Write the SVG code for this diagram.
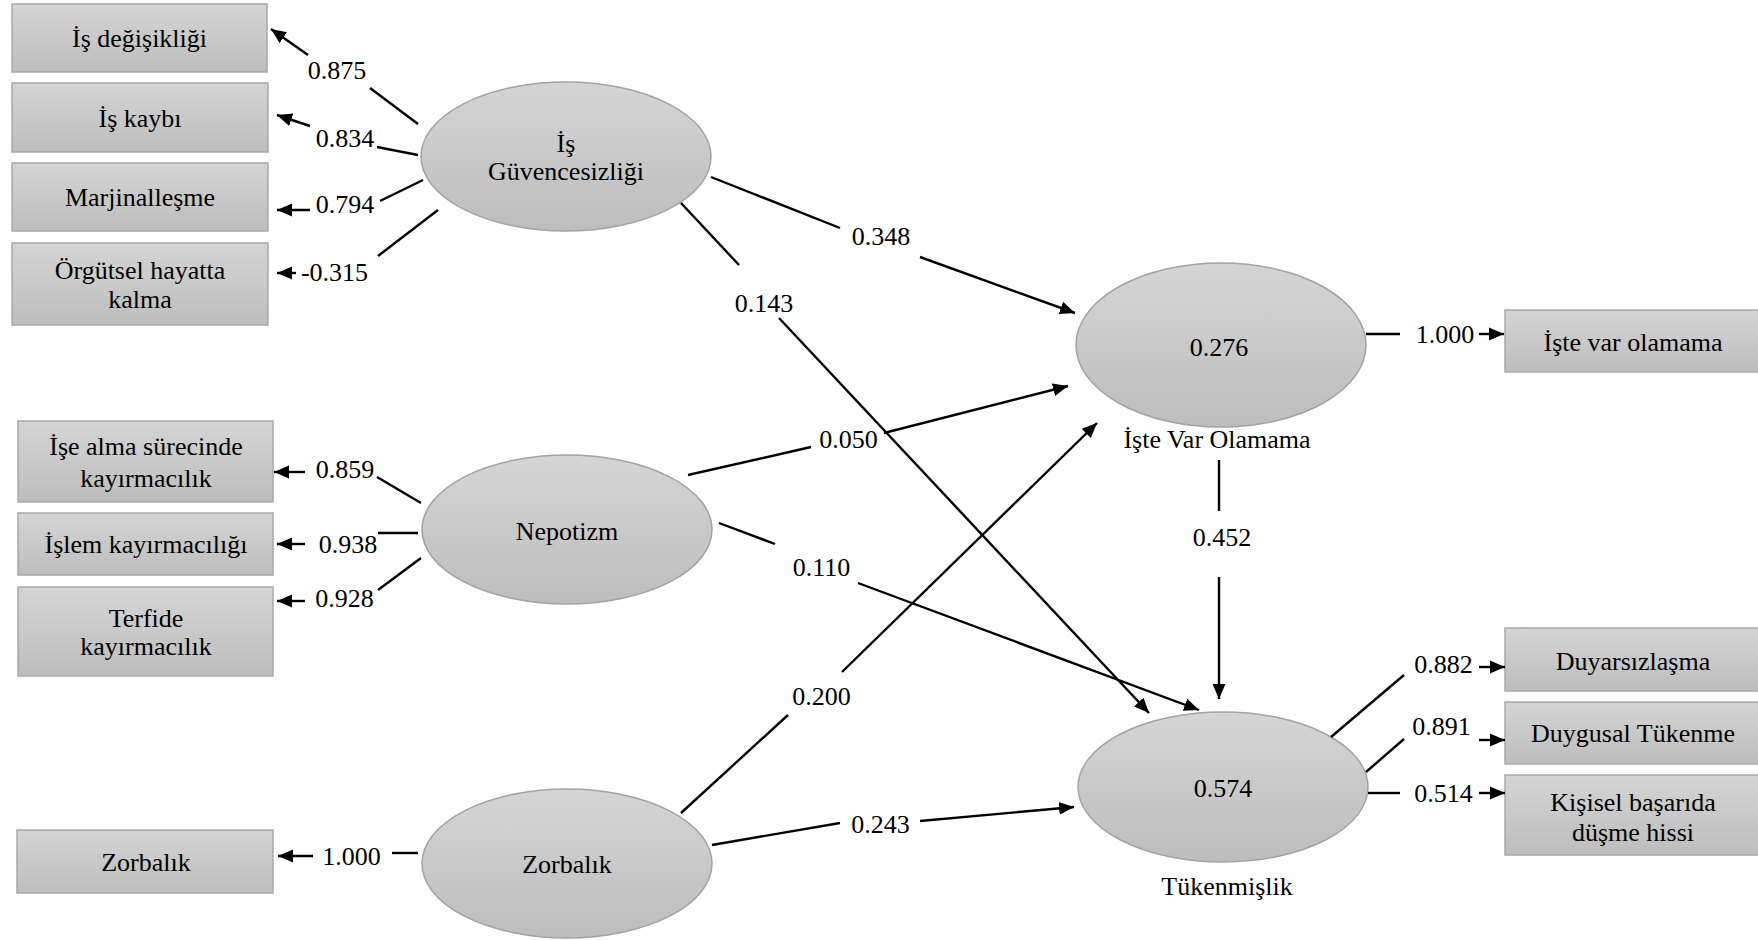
<svg xmlns="http://www.w3.org/2000/svg" width="1758" height="940" viewBox="0 0 1758 940">
<defs>
<linearGradient id="g" x1="0" y1="0" x2="0" y2="1">
<stop offset="0" stop-color="#d5d5d5"/>
<stop offset="1" stop-color="#bdbdbd"/>
</linearGradient>
<marker id="ah" markerUnits="userSpaceOnUse" markerWidth="16" markerHeight="14" refX="15" refY="7" orient="auto">
<path d="M0,0.5 L15,7 L0,13.5 z" fill="#000"/>
</marker>
<style>
.box{fill:url(#g);stroke:#a9a9a9;stroke-width:1.5}
.ell{fill:url(#g);stroke:#a3a3a3;stroke-width:1.5}
text{font-family:'Liberation Serif','DejaVu Serif',serif;font-size:26px;fill:#000;text-anchor:middle}
.c line{stroke:#000;stroke-width:2.4}
.c line.a{marker-end:url(#ah)}
</style>
</defs>
<rect width="1758" height="940" fill="#fff"/>
<g font-family="Liberation Serif, DejaVu Serif, serif">
<g id="box-is-degisikligi"><rect class="box" x="12" y="4" width="255" height="68"/><text x="139.5" y="47">İş değişikliği</text></g>
<g id="box-is-kaybi"><rect class="box" x="12" y="83" width="256" height="69"/><text x="140" y="127">İş kaybı</text></g>
<g id="box-marjinallesme"><rect class="box" x="12" y="163" width="256" height="68"/><text x="140" y="206">Marjinalleşme</text></g>
<g id="box-orgutsel"><rect class="box" x="12" y="243" width="256" height="82"/><text x="140" y="279">Örgütsel hayatta</text><text x="140" y="308">kalma</text></g>
<g id="box-ise-alma"><rect class="box" x="18" y="421" width="255" height="81"/><text x="146" y="455">İşe alma sürecinde</text><text x="146" y="487">kayırmacılık</text></g>
<g id="box-islem"><rect class="box" x="18" y="513" width="255" height="62"/><text x="146" y="553">İşlem kayırmacılığı</text></g>
<g id="box-terfide"><rect class="box" x="18" y="587" width="255" height="89"/><text x="146" y="627">Terfide</text><text x="146" y="655">kayırmacılık</text></g>
<g id="box-zorbalik"><rect class="box" x="17" y="830" width="256" height="63"/><text x="146" y="871">Zorbalık</text></g>

<g id="ell-is-guvencesizligi"><ellipse class="ell" cx="566" cy="156.5" rx="145" ry="74.5"/><text x="566" y="152">İş</text><text x="566" y="180">Güvencesizliği</text></g>
<g id="ell-nepotizm"><ellipse class="ell" cx="567" cy="529.5" rx="145" ry="74.5"/><text x="567" y="540">Nepotizm</text></g>
<g id="ell-zorbalik"><ellipse class="ell" cx="567" cy="863.5" rx="145" ry="74.5"/><text x="567" y="873">Zorbalık</text></g>
<g id="ell-iste-var-olamama"><ellipse class="ell" cx="1221" cy="345" rx="145" ry="82"/><text x="1219" y="356">0.276</text><text x="1217" y="448">İşte Var Olamama</text></g>
<g id="ell-tukenmislik"><ellipse class="ell" cx="1223" cy="787" rx="145" ry="75"/><text x="1223" y="797">0.574</text><text x="1227" y="895">Tükenmişlik</text></g>

<g id="box-iste-var-olamama"><rect class="box" x="1505" y="310" width="256" height="62"/><text x="1633" y="351">İşte var olamama</text></g>
<g id="box-duyarsizlasma"><rect class="box" x="1505" y="628" width="256" height="63"/><text x="1633" y="670">Duyarsızlaşma</text></g>
<g id="box-duygusal"><rect class="box" x="1505" y="702" width="256" height="62"/><text x="1633" y="742">Duygusal Tükenme</text></g>
<g id="box-kisisel"><rect class="box" x="1505" y="775" width="256" height="80"/><text x="1633" y="811">Kişisel başarıda</text><text x="1633" y="841">düşme hissi</text></g>

<g id="connectors" class="c">
<line x1="418" y1="124" x2="370" y2="88"/><line class="a" x1="308" y1="55" x2="271" y2="29"/><text x="337" y="79">0.875</text>
<line x1="418" y1="155" x2="377" y2="147"/><line class="a" x1="310" y1="126" x2="277" y2="115"/><text x="345" y="147">0.834</text>
<line x1="423" y1="180" x2="380" y2="201"/><line class="a" x1="310" y1="210" x2="277" y2="210"/><text x="345" y="213">0.794</text>
<line x1="438" y1="210" x2="378" y2="256"/><line class="a" x1="296" y1="273" x2="277" y2="273"/><text x="334.5" y="281">-0.315</text>

<line x1="421" y1="503" x2="377" y2="477"/><line class="a" x1="305" y1="472" x2="274" y2="472"/><text x="345" y="478">0.859</text>
<line x1="418" y1="533" x2="378" y2="533"/><line class="a" x1="305" y1="544" x2="277" y2="544"/><text x="348" y="553">0.938</text>
<line x1="421" y1="558" x2="378" y2="590"/><line class="a" x1="305" y1="601" x2="277" y2="601"/><text x="344.5" y="607">0.928</text>
<line x1="418" y1="853" x2="392" y2="853"/><line class="a" x1="313" y1="856" x2="278" y2="856"/><text x="351.5" y="865">1.000</text>

<line x1="711" y1="177" x2="840" y2="228"/><line class="a" x1="920" y1="257" x2="1075" y2="313"/><text x="881" y="245">0.348</text>
<line x1="681" y1="203" x2="739" y2="265"/><line class="a" x1="779" y1="318" x2="1149" y2="713"/><text x="764" y="312">0.143</text>
<line x1="688" y1="475" x2="811" y2="447"/><line class="a" x1="884" y1="433" x2="1068" y2="386"/><text x="848.5" y="448">0.050</text>
<line x1="719" y1="523" x2="775" y2="544"/><line class="a" x1="858" y1="583" x2="1199" y2="710"/><text x="821.5" y="576">0.110</text>
<line x1="681" y1="813" x2="788" y2="715"/><line class="a" x1="842" y1="672" x2="1097" y2="423"/><text x="821.5" y="705">0.200</text>
<line x1="712" y1="845" x2="840" y2="823"/><line class="a" x1="920" y1="821" x2="1074" y2="807"/><text x="880.5" y="833">0.243</text>

<line x1="1219" y1="460" x2="1219" y2="511"/><line class="a" x1="1219" y1="577" x2="1219" y2="699"/><text x="1222" y="546">0.452</text>
<line x1="1366" y1="334" x2="1400" y2="334"/><line class="a" x1="1479" y1="334" x2="1504" y2="334"/><text x="1445" y="343">1.000</text>
<line x1="1331" y1="737" x2="1404" y2="675"/><line class="a" x1="1479" y1="667" x2="1505" y2="667"/><text x="1443.5" y="673">0.882</text>
<line x1="1366" y1="772" x2="1404" y2="739"/><line class="a" x1="1479" y1="740" x2="1505" y2="740"/><text x="1441.5" y="735">0.891</text>
<line x1="1368" y1="793" x2="1400" y2="793"/><line class="a" x1="1479" y1="793" x2="1505" y2="793"/><text x="1443.5" y="802">0.514</text>
</g>
</g>
</svg>
